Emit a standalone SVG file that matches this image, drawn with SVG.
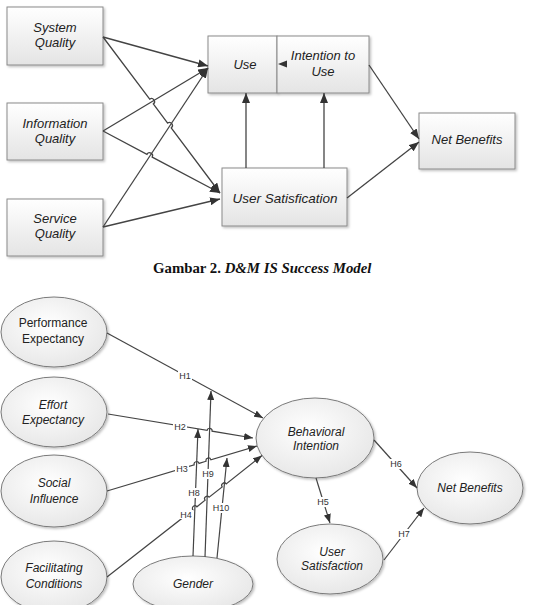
<svg xmlns="http://www.w3.org/2000/svg" width="535" height="605" viewBox="0 0 535 605">
<style>
.box{fill:url(#gb);stroke:#8a8a8a;stroke-width:1;filter:url(#sh)}
.ell{fill:url(#ge);stroke:#7a7a7a;stroke-width:1;filter:url(#sh)}
.t{font-family:"Liberation Sans",Arial,sans-serif;font-size:13px;font-style:italic;fill:#222;text-anchor:middle}
.e{font-family:"Liberation Sans",Arial,sans-serif;font-size:12px;font-style:italic;fill:#222;text-anchor:middle}
.en{font-style:normal}
.ln{fill:none;stroke:#444;stroke-width:1.3;marker-end:url(#ah)}
.lb{fill:none;stroke:#444;stroke-width:1.2;marker-end:url(#ah2)}
.hl{font-family:"Liberation Sans",Arial,sans-serif;font-size:9px;fill:#333;text-anchor:middle}
.hb{fill:#fff}
.cap{font-family:"Liberation Serif","Times New Roman",serif;font-size:14.8px;font-weight:bold;fill:#111}
</style>
<defs>
<linearGradient id="gb" x1="0" y1="0" x2="0" y2="1"><stop offset="0" stop-color="#ffffff"/><stop offset="1" stop-color="#e4e4e4"/></linearGradient>
<radialGradient id="ge" cx="0.45" cy="0.4" r="0.65"><stop offset="0" stop-color="#ffffff"/><stop offset="1" stop-color="#e6e6e6"/></radialGradient>
<filter id="sh" x="-10%" y="-10%" width="125%" height="130%"><feDropShadow dx="1.5" dy="1.5" stdDeviation="1" flood-color="#000" flood-opacity="0.25"/></filter>
<marker id="ah" viewBox="0 0 10 8" refX="10" refY="4" markerWidth="10" markerHeight="8" markerUnits="userSpaceOnUse" orient="auto"><path d="M0,0 L10,4 L0,8 z" fill="#333"/></marker>
<marker id="ah2" viewBox="0 0 9 7" refX="9" refY="3.5" markerWidth="9" markerHeight="7" markerUnits="userSpaceOnUse" orient="auto"><path d="M0,0 L9,3.5 L0,7 z" fill="#333"/></marker>
</defs>
<rect width="535" height="605" fill="#fff"/>

<!-- Top diagram nodes -->
<g id="system-quality"><rect class="box" x="7" y="7" width="96" height="58"/><text class="t" x="55" y="32">System</text><text class="t" x="55" y="47">Quality</text></g>
<g id="information-quality"><rect class="box" x="7" y="103" width="96" height="57"/><text class="t" x="55" y="128">Information</text><text class="t" x="55" y="143">Quality</text></g>
<g id="service-quality"><rect class="box" x="7" y="199" width="96" height="57"/><text class="t" x="55" y="223">Service</text><text class="t" x="55" y="238">Quality</text></g>
<g id="use"><rect class="box" x="208" y="36" width="69" height="57"/><text class="t" x="245" y="69">Use</text></g>
<g id="intention-to-use"><rect class="box" x="277" y="36" width="92" height="57"/><text class="t" x="323" y="60">Intention to</text><text class="t" x="323" y="76">Use</text></g>
<g id="net-benefits-top"><rect class="box" x="419" y="113" width="96" height="56"/><text class="t" x="467" y="144">Net Benefits</text></g>
<g id="user-satisfication"><rect class="box" x="222" y="168" width="125" height="58"/><text class="t" x="285" y="203" style="font-size:13.5px">User Satisfication</text></g>

<!-- Top connectors -->
<g id="top-connectors">
<path class="ln" d="M103,37 L208,66"/>
<path class="ln" d="M103,37 L149.7,99.2 A3,3 0 0 1 153.3,104 L167.6,123.1 A3,3 0 0 1 171.2,127.9 L220,193"/>
<path class="ln" d="M103,131 L208,68"/>
<path class="ln" d="M103,131 L146.95,154.3 A3,3 0 0 1 152.25,157.1 L220,193"/>
<path class="ln" d="M103,227 L208,68"/>
<path class="ln" d="M103,227 L220,199"/>
<path class="ln" d="M246,168 L246,93"/>
<path class="ln" d="M324,168 L324,93"/>
<polygon points="278,64 287,60.5 287,67.5" fill="#333"/>
<path class="ln" d="M369,65 L419,139"/>
<path class="ln" d="M347,198 L419,142"/>
</g>

<text class="cap" x="153" y="273">Gambar 2. <tspan font-style="italic">D&amp;M IS Success Model</tspan></text>

<!-- Bottom diagram nodes -->
<g id="performance-expectancy"><ellipse class="ell" cx="54" cy="332" rx="53" ry="35"/><text class="e en" x="53" y="327">Performance</text><text class="e en" x="53" y="343">Expectancy</text></g>
<g id="effort-expectancy"><ellipse class="ell" cx="54" cy="412" rx="53" ry="35"/><text class="e" x="53" y="409">Effort</text><text class="e" x="53" y="424">Expectancy</text></g>
<g id="social-influence"><ellipse class="ell" cx="54" cy="491" rx="53" ry="36"/><text class="e" x="54" y="487">Social</text><text class="e" x="54" y="503">Influence</text></g>
<g id="facilitating-conditions"><ellipse class="ell" cx="54" cy="577" rx="53" ry="36"/><text class="e" x="54" y="572">Facilitating</text><text class="e" x="54" y="588">Conditions</text></g>
<g id="gender"><ellipse class="ell" cx="193" cy="584" rx="60" ry="28"/><text class="e" x="193" y="588">Gender</text></g>
<g id="behavioral-intention"><ellipse class="ell" cx="315" cy="438" rx="59" ry="40"/><text class="e" x="316" y="436">Behavioral</text><text class="e" x="316" y="450">Intention</text></g>
<g id="net-benefits"><ellipse class="ell" cx="470" cy="488" rx="53" ry="36"/><text class="e" x="470" y="492">Net Benefits</text></g>
<g id="user-satisfaction"><ellipse class="ell" cx="330" cy="559" rx="53" ry="35"/><text class="e" x="332" y="556">User</text><text class="e" x="332" y="570">Satisfaction</text></g>

<!-- Bottom connectors -->
<g id="bottom-connectors">
<path class="lb" d="M107,333 L263,418"/>
<path class="lb" d="M108,414 L207.1,430.4 A2.5,2.5 0 0 1 212.1,431.2 L253,438"/>
<path class="lb" d="M107,491 L194.2,464.8 A2.5,2.5 0 0 1 199,463.4 L206.1,461.2 A2.5,2.5 0 0 1 210.9,459.8 L257,446"/>
<path class="lb" d="M107,577 L192.9,509.8 A2.5,2.5 0 0 1 196.9,506.8 L205.1,500.2 A2.5,2.5 0 0 1 209.1,497.2 L222.2,486.9 A2.5,2.5 0 0 1 226.2,483.9 L262,455.5"/>
<path class="lb" d="M193,556 L198,429"/>
<path class="lb" d="M205,557 L211,391"/>
<path class="lb" d="M217,558 L227,458"/>
<path class="lb" d="M316,478 L330,523"/>
<path class="lb" d="M374,440 L417,488"/>
<path class="lb" d="M384,560 L424,508"/>
<g id="hyp-labels">
<rect class="hb" x="178" y="371" width="14" height="9"/><text class="hl" x="185" y="379">H1</text>
<rect class="hb" x="173" y="422" width="14" height="9"/><text class="hl" x="180" y="430">H2</text>
<rect class="hb" x="175" y="464" width="14" height="9"/><text class="hl" x="182" y="472">H3</text>
<rect class="hb" x="179" y="510" width="14" height="9"/><text class="hl" x="186" y="518">H4</text>
<rect class="hb" x="316" y="497" width="14" height="10"/><text class="hl" x="323" y="505">H5</text>
<rect class="hb" x="389" y="459" width="14" height="10"/><text class="hl" x="396" y="467">H6</text>
<rect class="hb" x="397" y="529" width="14" height="10"/><text class="hl" x="404" y="537">H7</text>
<rect class="hb" x="187" y="488" width="14" height="10"/><text class="hl" x="194" y="496">H8</text>
<rect class="hb" x="201" y="469" width="14" height="10"/><text class="hl" x="208" y="477">H9</text>
<rect class="hb" x="211" y="503" width="19" height="10"/><text class="hl" x="221" y="511">H10</text>
</g>
</g>
</svg>
